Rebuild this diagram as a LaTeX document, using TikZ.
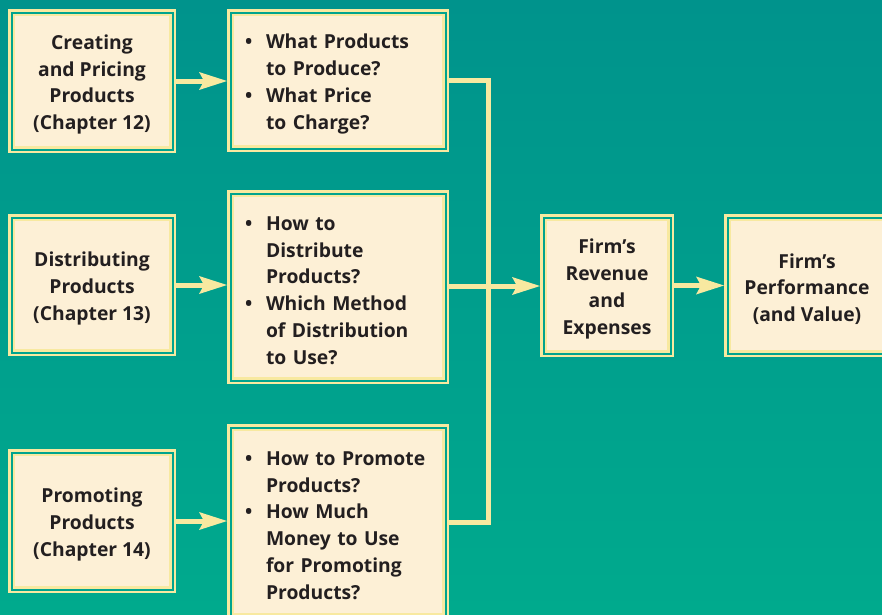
\documentclass[tikz,border=0pt]{standalone}
\usepackage{fontspec}
\setmainfont{Open Sans}
\usetikzlibrary{arrows.meta}
\definecolor{bgtop}{RGB}{0,147,140}
\definecolor{bgmid}{RGB}{0,164,142}
\definecolor{bgbot}{RGB}{0,170,141}
\definecolor{pale}{RGB}{248,233,160}
\definecolor{cream}{RGB}{253,240,214}
\definecolor{ink}{RGB}{35,31,32}
\newcommand\bul[1]{\makebox[21pt][l]{•}#1}
\newcommand\ind[1]{\hspace*{21pt}#1}
\begin{document}
\begin{tikzpicture}[x=1pt,y=-1pt,
  box/.style={draw=pale, line width=2.5pt, double=bgmid, double distance=2pt,
    fill=cream, outer sep=3.5pt, inner sep=0pt},
  txt/.style={text=ink, inner sep=0pt, yshift=-3.5pt,
    font=\bfseries\fontsize{19.3}{26.8}\selectfont, align=center},
  listtxt/.style={txt, align=left, text width=186pt},
  conn/.style={draw=pale, line width=5pt},
  arr/.style={conn, -{Stealth[length=28pt,width=18pt,inset=5pt,line width=0pt]}}]
\useasboundingbox (0,0) rectangle (882,614);
\clip (0,0) rectangle (882,614);
\shade[top color=bgtop, middle color=bgmid, bottom color=bgbot] (0,0) rectangle (882,614);

\node[box, minimum width=161pt, minimum height=137pt] (b1) at (92,81) {};
\node[txt] (t1) at (b1.center) {Creating\\and Pricing\\Products\\(Chapter 12)};
\node[box, minimum width=161pt, minimum height=135pt] (b3) at (92,285) {};
\node[txt] (t3) at (b3.center) {Distributing\\Products\\(Chapter 13)};
\node[box, minimum width=161pt, minimum height=137pt] (b5) at (92,521) {};
\node[txt] (t5) at (b5.center) {Promoting\\Products\\(Chapter 14)};

\node[box, minimum width=215pt, minimum height=136pt] (b2) at (338,80.5) {};
\node[listtxt] (t2) at (b2.center)
  {\bul{What Products}\\\ind{to Produce?}\\\bul{What Price}\\\ind{to Charge?}};
\node[box, minimum width=215pt, minimum height=187pt] (b4) at (338,287) {};
\node[listtxt] (t4) at (b4.center)
  {\bul{How to}\\\ind{Distribute}\\\ind{Products?}\\\bul{Which Method}\\\ind{of Distribution}\\\ind{to Use?}};
\node[box, minimum width=215pt, minimum height=189pt] (b6) at (338,522) {};
\node[listtxt] (t6) at (b6.center)
  {\bul{How to Promote}\\\ind{Products?}\\\bul{How Much}\\\ind{Money to Use}\\\ind{for Promoting}\\\ind{Products?}};

\node[box, minimum width=127pt, minimum height=136pt] (b7) at (607,285.5) {};
\node[txt] (t7) at (b7.center) {Firm’s\\Revenue\\and\\Expenses};
\node[box, minimum width=159pt, minimum height=136pt] (b8) at (807,285.5) {};
\node[txt] (t8) at (b8.center) {Firm’s\\Performance\\(and Value)};

\coordinate (bus) at (488.5,286);

\draw[arr] (b1.east) -- (b1.east -| b2.west);
\draw[arr] (b3.east) -- (b3.east -| b4.west);
\draw[arr] (b5.east) -- (b5.east -| b6.west);
\draw[conn] (b2.east) -| (bus) |- (b6.east);
\draw[arr] (b4.east |- bus) -- (bus -| b7.west);
\draw[arr] (b7.east) -- (b7.east -| b8.west);
\end{tikzpicture}
\end{document}
